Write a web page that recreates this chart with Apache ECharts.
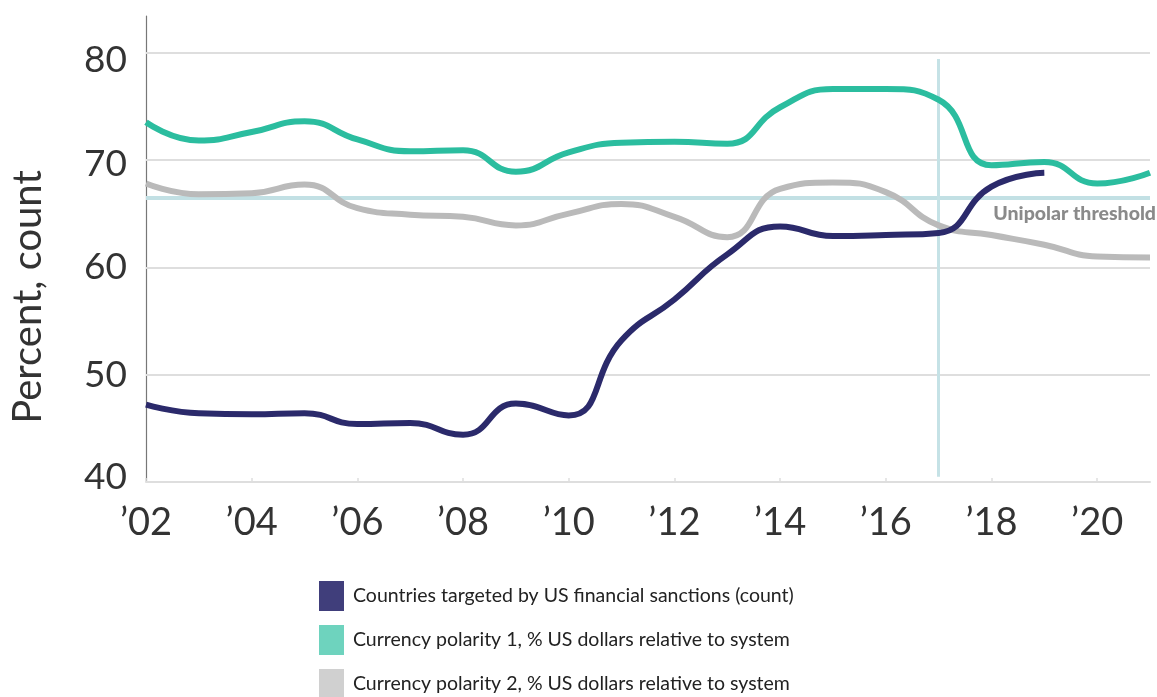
<!DOCTYPE html>
<html>
<head>
<meta charset="utf-8">
<script src="https://cdn.jsdelivr.net/npm/echarts@6/dist/echarts.min.js"></script>
<style>
html,body{margin:0;padding:0;background:#fff;}
#chart{width:1157px;height:697px;}
</style>
</head>
<body>
<div id="chart"></div>
<script>
const years = ['2002','2003','2004','2005','2006','2007','2008','2009','2010','2011','2012','2013','2014','2015','2016','2017','2018','2019','2020','2021'];
const sanctions = [47.2, 46.4, 46.3, 46.4, 45.4, 45.5, 44.4, 47.3, 46.2, 53.2, 57.0, 61.2, 63.8, 62.9, 63.0, 63.2, 67.5, 68.8, null, null];
const polarity1 = [73.5, 71.8, 72.6, 73.6, 71.9, 70.8, 70.9, 68.9, 70.7, 71.6, 71.7, 71.5, 74.9, 76.6, 76.6, 75.6, 69.5, 69.8, 67.8, 68.8];
const polarity2 = [67.8, 66.8, 66.9, 67.7, 65.5, 64.9, 64.7, 63.9, 65.0, 65.9, 64.7, 62.8, 67.3, 67.9, 67.0, 63.9, 63.0, 62.1, 61.0, 60.9];
const yTicks = [50, 60, 70, 80];
const thresholdValue = 66.5;
const thresholdLabel = 'Unipolar threshold';
const markerYear = '2017';
const markerRange = [40.5, 79.4];
const seriesNames = [
  'Countries targeted by US financial sanctions (count)',
  'Currency polarity 1, % US dollars relative to system',
  'Currency polarity 2, % US dollars relative to system'
];
const yAxisTitle = 'Percent, count';

const FONT = 'Lato, "Open Sans", sans-serif';
const chart = echarts.init(document.getElementById('chart'));

const gridLines = yTicks.map(v => ({ yAxis: v, lineStyle: { color: '#dedede', width: 2, type: 'solid' }, label: { show: false } }));

const labelRich = {
  l80: { padding: [16, 0, 0, 0] },
  l70: { padding: [8, 0, 0, 0] },
  l60: { padding: [0, 0, 0, 0] },
  l50: { padding: [0, 0, 0, 0] },
  l40: { padding: [0, 0, 9, 0] }
};
Object.keys(labelRich).forEach(k => {
  Object.assign(labelRich[k], { fontSize: 37, color: '#333', fontFamily: FONT });
});

chart.setOption({
  animation: false,
  textStyle: { fontFamily: FONT },
  grid: { left: 146, right: 7, top: 16, bottom: 215, containLabel: false },
  xAxis: {
    type: 'category',
    data: years,
    boundaryGap: false,
    axisLine: { show: true, lineStyle: { color: '#dedede', width: 2 } },
    axisTick: { show: true, inside: true, length: 4, interval: 1, lineStyle: { color: '#dedede', width: 1.5 } },
    axisLabel: {
      interval: 1,
      margin: 22,
      fontSize: 38,
      color: '#333',
      fontFamily: FONT,
      formatter: v => '\u2019' + v.slice(2)
    },
    splitLine: { show: false }
  },
  yAxis: {
    type: 'value',
    min: 40,
    max: 83.4,
    interval: 10,
    axisLine: { show: true, lineStyle: { color: '#777', width: 1.2 } },
    axisTick: { show: false },
    splitLine: { show: false },
    axisLabel: {
      margin: 19,
      fontSize: 37,
      color: '#333',
      fontFamily: FONT,
      formatter: v => (Math.abs(v % 10) < 1e-6 ? '{l' + v + '|' + v + '}' : ''),
      rich: labelRich
    }
  },
  legend: {
    orient: 'vertical',
    left: 319,
    top: 581,
    height: 125,
    padding: 0,
    itemWidth: 25,
    itemHeight: 30,
    itemGap: 14,
    selectedMode: false,
    textStyle: { fontSize: 19.5, color: '#222', fontFamily: FONT, padding: [0, 0, 0, 4] },
    data: [
      { name: seriesNames[0], icon: 'rect', itemStyle: { color: '#403e7b' } },
      { name: seriesNames[1], icon: 'rect', itemStyle: { color: '#6ed3be' } },
      { name: seriesNames[2], icon: 'rect', itemStyle: { color: '#d0d0d0' } }
    ]
  },
  graphic: [
    {
      type: 'text',
      x: 28,
      y: 297,
      rotation: Math.PI / 2,
      style: {
        text: yAxisTitle,
        font: '40px ' + FONT,
        fill: '#333',
        textAlign: 'center',
        textVerticalAlign: 'middle'
      }
    }
  ],
  series: [
    {
      name: 'refs',
      type: 'line',
      data: [],
      z: 1,
      silent: true,
      markLine: {
        z: 1,
        silent: true,
        symbol: ['none', 'none'],
        animation: false,
        data: gridLines.concat([
          {
            yAxis: thresholdValue,
            lineStyle: { color: '#c2e0e4', width: 4, type: 'solid' },
            label: {
              show: true,
              position: 'insideEndBottom',
              formatter: thresholdLabel,
              color: '#8a8a8a',
              fontWeight: 900,
              fontSize: 19.5,
              fontFamily: FONT,
              distance: [-6, 6]
            }
          },
          [
            { coord: [markerYear, markerRange[0]], lineStyle: { color: '#c5e2e6', width: 3, type: 'solid' }, label: { show: false } },
            { coord: [markerYear, markerRange[1]] }
          ]
        ])
      }
    },
    {
      name: seriesNames[1],
      type: 'line',
      data: polarity1,
      smooth: 0.5,
      symbol: 'none',
      z: 3,
      lineStyle: { color: '#2bbd9f', width: 6 },
      itemStyle: { color: '#2bbd9f' }
    },
    {
      name: seriesNames[2],
      type: 'line',
      data: polarity2,
      smooth: 0.5,
      symbol: 'none',
      z: 3,
      lineStyle: { color: '#bababa', width: 6 },
      itemStyle: { color: '#bababa' }
    },
    {
      name: seriesNames[0],
      type: 'line',
      data: sanctions,
      smooth: 0.5,
      symbol: 'none',
      z: 4,
      connectNulls: false,
      lineStyle: { color: '#2b2a6b', width: 6 },
      itemStyle: { color: '#2b2a6b' }
    }
  ]
});
</script>
</body>
</html>
